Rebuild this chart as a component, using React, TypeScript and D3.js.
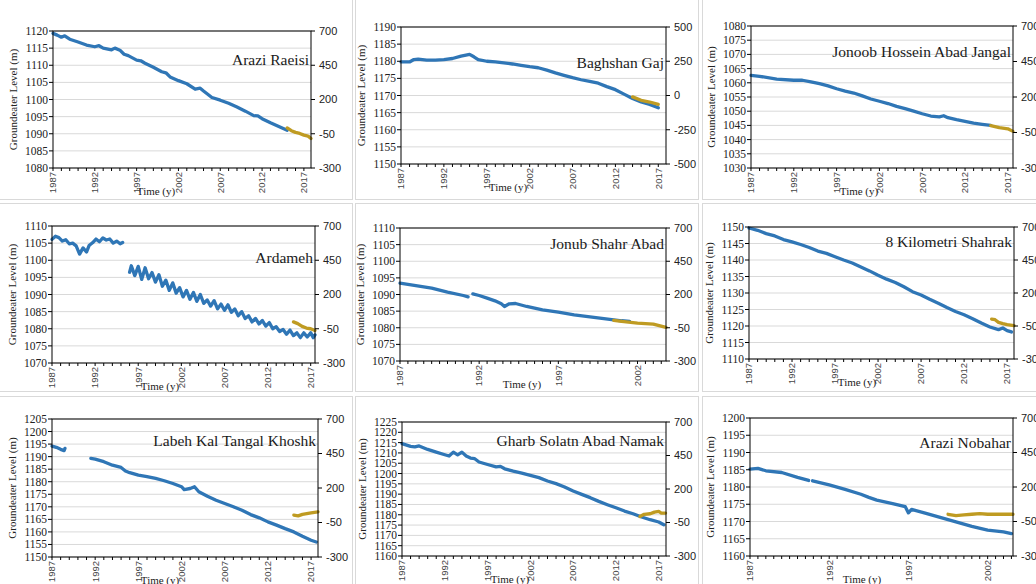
import React from "react";
import * as d3 from "d3";

type Pt = [number, number | null];

// observed (blue) and simulated (gold) groundwater levels, year -> metres
const raeisiObs: Pt[] = [
  [1987, 1119.3], [1987.5, 1118.8], [1988, 1118.2], [1988.4, 1118.6], [1989, 1117.6], [1990, 1116.8],
  [1991, 1115.9], [1992, 1115.4], [1992.5, 1115.7], [1993, 1115], [1994, 1114.5], [1994.4, 1115],
  [1995, 1114.4], [1995.5, 1113.2], [1996, 1112.8], [1997, 1111.5], [1997.5, 1111.3], [1998, 1110.6],
  [1999, 1109.4], [2000, 1108.1], [2000.5, 1107.8], [2001, 1106.6], [2002, 1105.5], [2003, 1104.6],
  [2004, 1103], [2004.6, 1103.3], [2005, 1102.5], [2006, 1100.6], [2007, 1099.8], [2008, 1098.9],
  [2009, 1097.8], [2010, 1096.6], [2011, 1095.3], [2011.5, 1095.2], [2012, 1094.4], [2013, 1093.2],
  [2014, 1092.1], [2015, 1091],
];
const raeisiSim: Pt[] = [
  [2015, 1091.7], [2015.5, 1090.9], [2016, 1090.4], [2016.5, 1090.1], [2017, 1089.6], [2017.5, 1089.3], [2017.85, 1088.6],
];

const baghshanObs: Pt[] = [
  [1987, 1179.8], [1988, 1179.8], [1988.5, 1180.5], [1989, 1180.6], [1990, 1180.3], [1991, 1180.3],
  [1992, 1180.5], [1993, 1180.8], [1994, 1181.5], [1995, 1182], [1995.5, 1181.3], [1996, 1180.5],
  [1997, 1180], [1998, 1179.8], [1999, 1179.5], [2000, 1179.2], [2001, 1178.8], [2002, 1178.4],
  [2003, 1178.1], [2004, 1177.4], [2005, 1176.6], [2006, 1175.9], [2007, 1175.2], [2008, 1174.6],
  [2009, 1174.1], [2010, 1173.6], [2011, 1172.6], [2012, 1171.7], [2013, 1170.4], [2014, 1169.1],
  [2015, 1168.1], [2016, 1167.4], [2017, 1166.4],
];
const baghshanSim: Pt[] = [
  [2014, 1169.6], [2015, 1168.6], [2016, 1168.1], [2017, 1167.4],
];

const jonoobObs: Pt[] = [
  [1987, 1062.6], [1988, 1062.3], [1990, 1061.3], [1992, 1060.9], [1993, 1060.9], [1994, 1060.3],
  [1995, 1059.7], [1996, 1058.9], [1997, 1057.9], [1998, 1057.1], [1999, 1056.4], [2000, 1055.4],
  [2001, 1054.3], [2002, 1053.5], [2003, 1052.7], [2004, 1051.7], [2005, 1050.9], [2006, 1050],
  [2007, 1049.1], [2008, 1048.3], [2009, 1048], [2009.5, 1048.4], [2010, 1047.7], [2011, 1047],
  [2012, 1046.4], [2013, 1045.8], [2014, 1045.4], [2015, 1045],
];
const jonoobSim: Pt[] = [
  [2015, 1044.9], [2016, 1044.2], [2017, 1043.8], [2017.6, 1042.9],
];

const ardamehObs: Pt[] = [
  [1987, 1106.1], [1987.4, 1107], [1987.8, 1106.6], [1988.2, 1105.6], [1988.6, 1106], [1989, 1104.8],
  [1989.4, 1105], [1989.8, 1104.2], [1990.2, 1101.8], [1990.6, 1103.6], [1991, 1102.4], [1991.3, 1104.3],
  [1991.7, 1105.1], [1992.1, 1106.2], [1992.5, 1105.4], [1992.9, 1106.5], [1993.3, 1105.9], [1993.7, 1106.2],
  [1994.1, 1105], [1994.5, 1105.6], [1994.9, 1104.8], [1995.2, 1105.2], [1995.6, null],
  [1996, 1096.5], [1996.2, 1098.4], [1996.6, 1095.5], [1997, 1098.2], [1997.4, 1094.4], [1997.8, 1097.8],
  [1998.2, 1094.6], [1998.6, 1096.4], [1999, 1093.6], [1999.4, 1095.8], [1999.8, 1092.4], [2000.2, 1094.2],
  [2000.6, 1091.2], [2001, 1093.4], [2001.4, 1090.4], [2001.8, 1092], [2002.2, 1089.3], [2002.6, 1091.2],
  [2003, 1088.6], [2003.4, 1090.6], [2003.8, 1088], [2004.2, 1090], [2004.6, 1087.4], [2005, 1088.4],
  [2005.4, 1086.6], [2005.8, 1088.2], [2006.2, 1085.8], [2006.6, 1087.2], [2007, 1085.4], [2007.4, 1087],
  [2007.8, 1084.8], [2008.2, 1085.8], [2008.6, 1083.8], [2009, 1085], [2009.4, 1083], [2009.8, 1083.8],
  [2010.2, 1082], [2010.6, 1083], [2011, 1081.4], [2011.4, 1082.4], [2011.8, 1080.8], [2012.2, 1081.8],
  [2012.6, 1080], [2013, 1080.6], [2013.4, 1079.2], [2013.8, 1079.8], [2014.2, 1078.4], [2014.6, 1079.6],
  [2015, 1078], [2015.4, 1078.8], [2015.8, 1077.4], [2016.2, 1078.8], [2016.6, 1077.6], [2017, 1078.8],
  [2017.3, 1077.4], [2017.5, 1078.2],
];
const ardamehSim: Pt[] = [
  [2015, 1082], [2015.5, 1081.5], [2016, 1080.7], [2016.5, 1080.2], [2017, 1080], [2017.5, 1079.5],
];

const shahrAbadObs: Pt[] = [
  [1987, 1093.4], [1988, 1092.7], [1989, 1091.9], [1990, 1090.7], [1991, 1089.7], [1991.3, 1089.3],
  [1991.45, null], [1991.6, 1090.2], [1992, 1089.7], [1992.5, 1088.9], [1993, 1088.1], [1993.4, 1087.2],
  [1993.6, 1086.4], [1993.9, 1087.2], [1994.3, 1087.3], [1995, 1086.4], [1996, 1085.4], [1997, 1084.7],
  [1998, 1083.9], [1999, 1083.3], [2000, 1082.7], [2001, 1082.1], [2001.5, 1081.9],
];
const shahrAbadSim: Pt[] = [
  [2000.5, 1082.2], [2001, 1081.9], [2002, 1081.4], [2003, 1081.1], [2003.8, 1080.1],
];

const kilometriObs: Pt[] = [
  [1987, 1149.7], [1988, 1149], [1989, 1148], [1990, 1147.3], [1991, 1146.2], [1992, 1145.5],
  [1993, 1144.7], [1994, 1143.8], [1995, 1142.7], [1996, 1142], [1997, 1141], [1998, 1140],
  [1999, 1139.1], [2000, 1137.9], [2001, 1136.7], [2002, 1135.4], [2003, 1134.2], [2004, 1133.2],
  [2005, 1131.9], [2006, 1130.4], [2007, 1129.4], [2008, 1128.1], [2009, 1126.9], [2010, 1125.6],
  [2011, 1124.4], [2012, 1123.4], [2013, 1122.2], [2014, 1120.9], [2015, 1119.7], [2016, 1118.9],
  [2016.5, 1119.4], [2017, 1118.6], [2017.5, 1118.2],
];
const kilometriSim: Pt[] = [
  [2015.2, 1122.1], [2015.6, 1121.9], [2016, 1121.1], [2016.5, 1120.7], [2017, 1120.4], [2017.8, 1120.1],
];

const labehObs: Pt[] = [
  [1987, 1194.2], [1987.5, 1193.7], [1988, 1192.9], [1988.4, 1192.4], [1988.5, 1193.3], [1990, null],
  [1991.5, 1189.3], [1992, 1189], [1993, 1188], [1994, 1186.6], [1995, 1185.7], [1995.5, 1184.3],
  [1996, 1183.6], [1997, 1182.6], [1998, 1182], [1999, 1181.3], [2000, 1180.4], [2001, 1179.3],
  [2002, 1178], [2002.3, 1176.9], [2003, 1177.3], [2003.5, 1178], [2004, 1176], [2005, 1174.2],
  [2006, 1172.6], [2007, 1171.3], [2008, 1170], [2009, 1168.6], [2010, 1166.9], [2011, 1165.6],
  [2012, 1164], [2013, 1162.7], [2014, 1161.3], [2015, 1160], [2016, 1158.3], [2017, 1156.7], [2017.6, 1156],
];
const labehSim: Pt[] = [
  [2015, 1166.7], [2015.5, 1166.4], [2016, 1167], [2016.5, 1167.3], [2017, 1167.6], [2017.8, 1168],
];

const gharbObs: Pt[] = [
  [1987, 1214.5], [1988, 1213.2], [1988.5, 1212.9], [1989, 1213.4], [1990, 1211.7], [1991, 1210.4],
  [1992, 1209.1], [1992.5, 1208.5], [1993, 1210.4], [1993.5, 1209.1], [1994, 1210.4], [1994.5, 1208.5],
  [1995, 1207.5], [1995.5, 1207.2], [1996, 1205.6], [1997, 1204.4], [1998, 1203.2], [1998.5, 1203.5],
  [1999, 1202.3], [2000, 1201.2], [2001, 1200.2], [2002, 1199.1], [2003, 1198], [2004, 1196.4],
  [2005, 1195.1], [2006, 1193.5], [2007, 1191.5], [2008, 1189.9], [2009, 1188.3], [2010, 1186.5],
  [2011, 1184.9], [2012, 1183.4], [2013, 1181.8], [2014, 1180.5], [2015, 1178.9], [2016, 1177.6],
  [2017, 1176.5], [2017.6, 1175.2],
];
const gharbSim: Pt[] = [
  [2014.8, 1179.2], [2015.3, 1180.2], [2016, 1180.5], [2016.5, 1181.3], [2017, 1181.6], [2017.3, 1180.8], [2017.8, 1180.8],
];

const nobaharObs: Pt[] = [
  [1987, 1185.2], [1987.5, 1185.4], [1988, 1184.7], [1989, 1184.2], [1990, 1182.8], [1990.7, 1181.9],
  [1990.8, null], [1990.95, 1181.8], [1992, 1180.6], [1993, 1179.3], [1994, 1177.9], [1994.5, 1177],
  [1995, 1176.2], [1996, 1175.2], [1996.8, 1174.3], [1997, 1172.5], [1997.2, 1173.5], [1998, 1172.5],
  [1999, 1171.2], [2000, 1169.9], [2001, 1168.6], [2002, 1167.5], [2003, 1167], [2003.5, 1166.5],
];
const nobaharSim: Pt[] = [
  [1999.5, 1172.1], [2000, 1171.7], [2000.5, 1171.9], [2001, 1172.1], [2001.5, 1172.3], [2002, 1172.1], [2003.6, 1172.1],
];

const yearsLong = [1987, 1992, 1997, 2002, 2007, 2012, 2017];
const yearsShort = [1987, 1992, 1997, 2002];

const BLUE = "#2f76b6";
const GOLD = "#bf9b22";
const SERIF = "'Liberation Serif', 'Times New Roman', serif";
const SANS = "'Liberation Sans', Arial, sans-serif";

// plot rectangles: [left, right, top, bottom]
const panels = [
  { name: "Arazi Raeisi", obs: raeisiObs, sim: raeisiSim, yMin: 1080, yMax: 1120, rMin: -300, rMax: 700, xMax: 2017.85, xLabels: yearsLong, minor: 1, rect: [53, 311, 31, 168], nameY: 65, timeX: 156 },
  { name: "Baghshan Gaj", obs: baghshanObs, sim: baghshanSim, yMin: 1150, yMax: 1190, rMin: -500, rMax: 500, xMax: 2017.9, xLabels: yearsLong, minor: 1, rect: [401, 666, 27, 164], nameY: 68, timeX: 508 },
  { name: "Jonoob Hossein Abad Jangal", obs: jonoobObs, sim: jonoobSim, yMin: 1030, yMax: 1080, rMin: -300, rMax: 700, xMax: 2017.6, xLabels: yearsLong, minor: 1, rect: [751, 1013, 26, 168], nameY: 57, timeX: 859 },
  { name: "Ardameh", obs: ardamehObs, sim: ardamehSim, yMin: 1070, yMax: 1110, rMin: -300, rMax: 700, xMax: 2017.5, xLabels: yearsLong, minor: 1, rect: [52, 315, 226, 363], nameY: 263, timeX: 160 },
  { name: "Jonub Shahr Abad", obs: shahrAbadObs, sim: shahrAbadSim, yMin: 1070, yMax: 1110, rMin: -300, rMax: 700, xMax: 2003.8, xLabels: yearsShort, minor: 0.5, rect: [400, 666, 228, 361], nameY: 249, timeX: 522 },
  { name: "8 Kilometri Shahrak", obs: kilometriObs, sim: kilometriSim, yMin: 1110, yMax: 1150, rMin: -300, rMax: 700, xMax: 2017.8, xLabels: yearsLong, minor: 1, rect: [749, 1014, 227, 359], nameY: 247, timeX: 857 },
  { name: "Labeh Kal Tangal Khoshk", obs: labehObs, sim: labehSim, yMin: 1150, yMax: 1205, rMin: -300, rMax: 700, xMax: 2017.8, xLabels: yearsLong, minor: 1, rect: [52, 318, 419, 557], nameY: 446, timeX: 160 },
  { name: "Gharb Solatn Abad Namak", obs: gharbObs, sim: gharbSim, yMin: 1160, yMax: 1225, rMin: -300, rMax: 700, xMax: 2017.85, xLabels: yearsLong, minor: 1, rect: [402, 666, 422, 556], nameY: 446, timeX: 510 },
  { name: "Arazi Nobahar", obs: nobaharObs, sim: nobaharSim, yMin: 1160, yMax: 1200, rMin: -300, rMax: 700, xMax: 2003.6, xLabels: yearsShort, minor: 0.5, rect: [750, 1013, 418, 556], nameY: 448, timeX: 862 },
];

// light grey chart-area frames
const frameCols = [[-1, 352], [355, 698], [702, 1040]];
const frameRows = [[-1, 199], [203, 391], [396, 590]];

function Panel({ p }: { p: (typeof panels)[number] }) {
  const [left, right, top, bottom] = p.rect;
  const x = d3.scaleLinear().domain([1987, p.xMax]).range([left, right]);
  const y = d3.scaleLinear().domain([p.yMin, p.yMax]).range([bottom, top]);
  const yr = d3.scaleLinear().domain([p.rMin, p.rMax]).range([bottom, top]);
  const yTicks = d3.range(p.yMin, p.yMax + 0.01, 5);
  const rTicks = d3.range(p.rMin, p.rMax + 0.01, 250);
  const minorTicks = d3.range(1987, p.xMax + 0.001, p.minor);
  const line = d3
    .line<Pt>()
    .defined((d) => d[1] != null)
    .x((d) => x(d[0]))
    .y((d) => y(d[1] as number));

  return (
    <g>
      {yTicks.map((t) => (
        <line key={"g" + t} x1={left} x2={right} y1={y(t)} y2={y(t)} stroke="#d9d9d9" strokeWidth={1} />
      ))}
      <path d={line(p.obs) || ""} fill="none" stroke={BLUE} strokeWidth={3.3} strokeLinejoin="round" strokeLinecap="round" />
      <path d={line(p.sim) || ""} fill="none" stroke={GOLD} strokeWidth={3.3} strokeLinejoin="round" strokeLinecap="round" />
      <text x={right - 2} y={p.nameY} textAnchor="end" fontFamily={SERIF} fontSize={15.5} fill="#1a1a1a">
        {p.name}
      </text>
      <rect x={left} y={top} width={right - left} height={bottom - top} fill="none" stroke="#000" strokeWidth={1} />
      {yTicks.map((t) => (
        <g key={"l" + t}>
          <line x1={left - 4} x2={left} y1={y(t)} y2={y(t)} stroke="#000" />
          <text x={left - 5} y={y(t)} dy="0.35em" textAnchor="end" fontFamily={SERIF} fontSize={11.5} fill="#222">
            {t}
          </text>
        </g>
      ))}
      {rTicks.map((t) => (
        <g key={"r" + t}>
          <line x1={right} x2={right + 4} y1={yr(t)} y2={yr(t)} stroke="#000" />
          <text x={right + 8} y={yr(t)} dy="0.35em" fontFamily={SANS} fontSize={11} fill="#222">
            {t}
          </text>
        </g>
      ))}
      {minorTicks.map((t) => (
        <line key={"m" + t} x1={x(t)} x2={x(t)} y1={bottom} y2={bottom + 3} stroke="#000" />
      ))}
      {p.xLabels.map((t) => (
        <text
          key={"x" + t}
          transform={`translate(${x(t)},${bottom + 4}) rotate(-90)`}
          dy="0.35em"
          textAnchor="end"
          fontFamily={SANS}
          fontSize={9.5}
          fill="#444"
        >
          {t}
        </text>
      ))}
      <text x={p.timeX} y={bottom + 27} textAnchor="middle" fontFamily={SERIF} fontSize={11} fill="#222">
        Time (y)
      </text>
      <text
        transform={`translate(${left - 40},${(top + bottom) / 2}) rotate(-90)`}
        dy="0.35em"
        textAnchor="middle"
        fontFamily={SERIF}
        fontSize={11}
        fill="#222"
      >
        Groundeater Level (m)
      </text>
    </g>
  );
}

export default function App() {
  return (
    <svg width={1036} height={584} style={{ position: "absolute", left: 0, top: 0, background: "#fff" }}>
      <rect width={1036} height={584} fill="#fff" />
      {frameRows.map((r, i) =>
        frameCols.map((c, j) => (
          <rect key={i + "-" + j} x={c[0] + 0.5} y={r[0] + 0.5} width={c[1] - c[0]} height={r[1] - r[0]} fill="none" stroke="#d9d9d9" />
        ))
      )}
      {panels.map((p) => (
        <Panel key={p.name} p={p} />
      ))}
    </svg>
  );
}
